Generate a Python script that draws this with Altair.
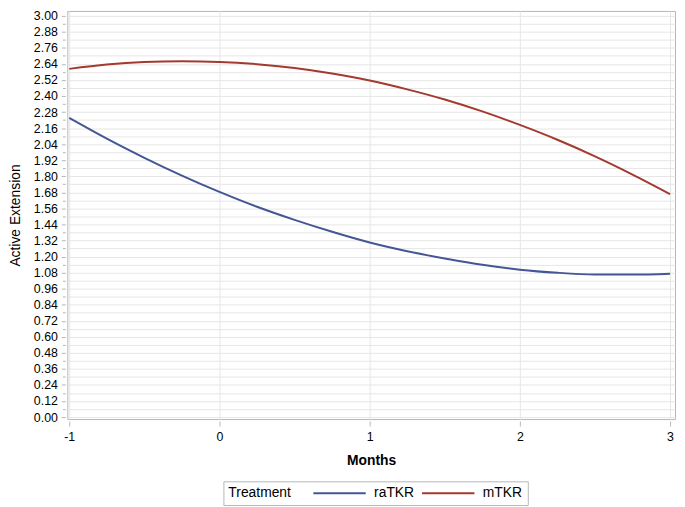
import altair as alt
import pandas as pd

months = [-1.0, -0.75, -0.5, -0.25, 0.0, 0.25, 0.5, 0.75, 1.0, 1.25, 1.5, 1.75, 2.0, 2.25, 2.5, 2.75, 3.0]
ratkr = [2.236, 2.081, 1.938, 1.805, 1.683, 1.572, 1.474, 1.385, 1.305, 1.240, 1.186, 1.138, 1.102, 1.079, 1.066, 1.065, 1.072]
mtkr = [2.603, 2.635, 2.654, 2.660, 2.655, 2.638, 2.609, 2.568, 2.516, 2.450, 2.374, 2.285, 2.184, 2.073, 1.949, 1.813, 1.667]
treatments = ["raTKR", "mTKR"]
colors = ["#445694", "#A23A2E"]
x_ticks = [-1, 0, 1, 2, 3]
y_ticks = [round(i * 0.06, 2) for i in range(51)]

rows = []
for t, series in zip(treatments, [ratkr, mtkr]):
    for m, v in zip(months, series):
        rows.append({"Months": m, "Active Extension": v, "Treatment": t})
df = pd.DataFrame(rows)

FONT = "Liberation Sans"

chart = alt.Chart(df).mark_line(strokeWidth=2, interpolate="monotone").encode(
    x=alt.X(
        "Months:Q",
        scale=alt.Scale(domain=[-1.013, 3.033], nice=False, zero=False),
        axis=alt.Axis(
            values=x_ticks,
            labelExpr="'' + datum.value",
            title="Months",
            titleFontWeight="bold",
            titleFontSize=14,
            titlePadding=10,
            labelFontSize=12.5,
            labelPadding=5,
            tickSize=5,
            offset=2,
            domain=False,
            grid=True,
            gridColor="#e6e6e6",
            tickColor="#B0B7BB",
            labelFlush=False,
        ),
    ),
    y=alt.Y(
        "Active Extension:Q",
        scale=alt.Scale(domain=[-0.015, 3.036], nice=False, zero=False),
        axis=alt.Axis(
            values=y_ticks,
            labelExpr="round(datum.value*100) % 12 === 0 ? format(datum.value, '.2f') : ''",
            title="Active Extension",
            titleFontWeight="normal",
            titleFontSize=14,
            titlePadding=11,
            labelFontSize=12.5,
            labelPadding=4,
            labelOverlap=False,
            labelFlush=False,
            tickSize={"condition": {"test": "round(datum.value*100) % 12 === 0", "value": 4}, "value": 3},
            offset=2,
            domain=False,
            grid=True,
            gridColor="#e6e6e6",
            tickColor="#B0B7BB",
        ),
    ),
    color=alt.Color(
        "Treatment:N",
        scale=alt.Scale(domain=treatments, range=colors),
        sort=treatments,
        legend=alt.Legend(
            orient="none",
            legendX=158,
            legendY=476,
            direction="horizontal",
            title="Treatment",
            titleOrient="left",
            titleFontWeight="normal",
            titleFontSize=14,
            titlePadding=41.5,
            titleBaseline="middle",
            labelFontSize=14,
            labelOffset=28,
            symbolType="M-5.3,0H5.3",
            symbolSize=100,
            symbolStrokeWidth=2,
            columnPadding=3,
            padding=5,
            strokeColor="#B0B7BB",
            fillColor="white",
        ),
    ),
).properties(
    width=615,
    height=413,
    autosize=alt.AutoSizeParams(type="none"),
    padding={"left": 60, "top": 0, "right": 2, "bottom": 86},
).configure(
    font=FONT,
).configure_view(
    stroke="#B0B7BB",
    strokeWidth=1,
).configure_axis(
    labelColor="#000000",
    titleColor="#000000",
    labelFont=FONT,
    titleFont=FONT,
).configure_legend(
    labelColor="#000000",
    titleColor="#000000",
    labelFont=FONT,
    titleFont=FONT,
)

chart.save("out.html", embed_options={"renderer": "svg", "actions": False})
